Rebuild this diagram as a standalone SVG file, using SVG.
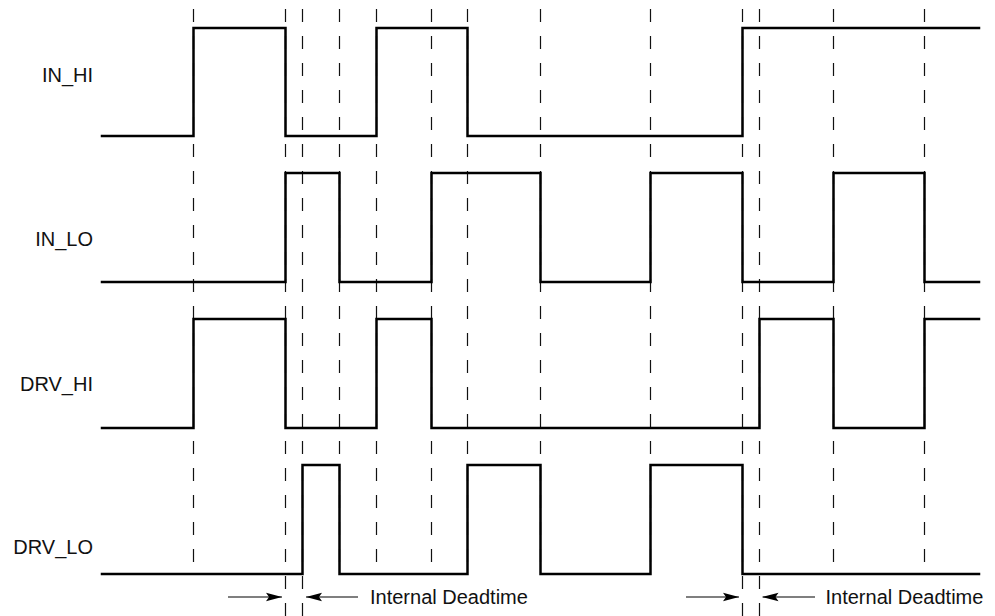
<svg xmlns="http://www.w3.org/2000/svg" width="995" height="616" viewBox="0 0 995 616">
<style>
.wave{fill:none;stroke:#000;stroke-width:2.5;stroke-linejoin:miter;stroke-linecap:square}
.dash{stroke:#111;stroke-width:1.2;stroke-dasharray:13,14}
.lbl{font-family:"Liberation Sans",Arial,sans-serif;font-size:20px;fill:#111}
.arr{stroke:#000;stroke-width:1.2;fill:none}
</style>
<defs>
<marker id="ah" markerWidth="16" markerHeight="10" refX="16" refY="5" orient="auto" markerUnits="userSpaceOnUse">
<path d="M0,0.8 L16,5 L0,9.2 L3,5 Z" fill="#000"/>
</marker>
</defs>
<rect width="995" height="616" fill="#fff"/>
<g id="timing-grid">
<line class="dash" x1="193.5" y1="9" x2="193.5" y2="565"/>
<line class="dash" x1="285.5" y1="9" x2="285.5" y2="616"/>
<line class="dash" x1="302.5" y1="9" x2="302.5" y2="616"/>
<line class="dash" x1="339.5" y1="9" x2="339.5" y2="565"/>
<line class="dash" x1="376.5" y1="9" x2="376.5" y2="565"/>
<line class="dash" x1="431.5" y1="9" x2="431.5" y2="565"/>
<line class="dash" x1="467.5" y1="9" x2="467.5" y2="565"/>
<line class="dash" x1="540.5" y1="9" x2="540.5" y2="565"/>
<line class="dash" x1="650.5" y1="9" x2="650.5" y2="565"/>
<line class="dash" x1="742.5" y1="9" x2="742.5" y2="616"/>
<line class="dash" x1="759.5" y1="9" x2="759.5" y2="616"/>
<line class="dash" x1="833.5" y1="9" x2="833.5" y2="565"/>
<line class="dash" x1="924.5" y1="9" x2="924.5" y2="565"/>
</g>
<g id="in_hi">
<text class="lbl" x="93" y="82" text-anchor="end">IN_HI</text>
<path class="wave" d="M102,136 H193.5 V28 H285.5 V136 H376.5 V28 H467.5 V136 H742.5 V28 H979"/>
</g>
<g id="in_lo">
<text class="lbl" x="93" y="246" text-anchor="end">IN_LO</text>
<path class="wave" d="M102,282 H285.5 V173 H339.5 V282 H431.5 V173 H540.5 V282 H650.5 V173 H742.5 V282 H833.5 V173 H924.5 V282 H979"/>
</g>
<g id="drv_hi">
<text class="lbl" x="93" y="391" text-anchor="end">DRV_HI</text>
<path class="wave" d="M102,428 H193.5 V319 H285.5 V428 H376.5 V319 H431.5 V428 H759.5 V319 H833.5 V428 H924.5 V319 H979"/>
</g>
<g id="drv_lo">
<text class="lbl" x="93" y="554" text-anchor="end">DRV_LO</text>
<path class="wave" d="M102,574 H302.5 V465 H339.5 V574 H467.5 V465 H540.5 V574 H650.5 V465 H742.5 V574 H979"/>
</g>
<g id="deadtime-1">
<text class="lbl" x="370" y="604">Internal Deadtime</text>
</g>
<g id="deadtime-2">
<text class="lbl" x="825.5" y="604">Internal Deadtime</text>
</g>
<g id="connectors">
<line class="arr" x1="228" y1="597" x2="282" y2="597" marker-end="url(#ah)"/>
<line class="arr" x1="358" y1="597" x2="306" y2="597" marker-end="url(#ah)"/>
<line class="arr" x1="686" y1="597" x2="739" y2="597" marker-end="url(#ah)"/>
<line class="arr" x1="815" y1="597" x2="762.5" y2="597" marker-end="url(#ah)"/>
</g>
</svg>
